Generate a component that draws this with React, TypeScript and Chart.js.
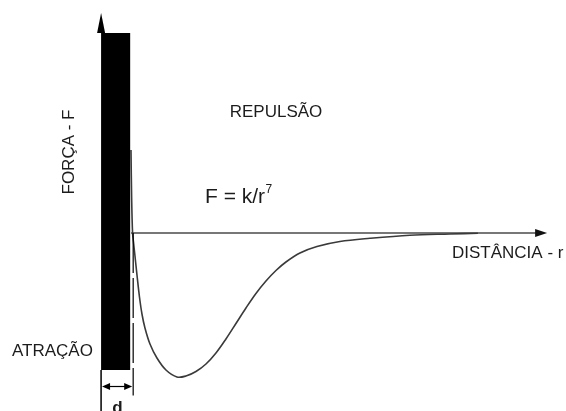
import React, { useEffect, useRef } from "react";
import { Chart, registerables } from "chart.js";

Chart.register(...registerables);

// Interatomic force curve: distance r vs. force F
const distance = [0.997, 1.02, 1.05, 1.08, 1.13, 1.197, 1.28, 1.363, 1.463, 1.63, 1.863, 2.163, 2.53, 2.83, 3.163, 3.497, 3.83, 4.163, 4.497, 4.83, 5.163, 5.497, 5.83, 6.163, 6.63, 7.197, 7.963, 8.963, 10.297, 11.63, 12.563];
const force = [4.15, 1.65, 0, -0.45, -1.15, -2.1, -3.2, -4.05, -4.75, -5.55, -6.25, -6.85, -7.2, -7.15, -6.925, -6.55, -6.0, -5.3, -4.525, -3.75, -3.025, -2.4, -1.875, -1.45, -1.0, -0.675, -0.425, -0.265, -0.11, -0.05, -0.015];

// Rigid wall of width d at the origin
const wallR = [0, 0.97];
const wallF = [-6.85, 10];
const dimensionF = -7.675;
const dimensionR = [0, 1.07];
const axisEndR = 14.87;
const axisTopF = 11;

const labels = {
  force: "FORÇA - F",
  repulsion: "REPULSÃO",
  law: "F = k/r",
  exponent: "7",
  distance: "DISTÂNCIA - r",
  attraction: "ATRAÇÃO",
  width: "d",
};

const FONT = "'Liberation Sans', Arial, sans-serif";

function arrowHead(ctx: CanvasRenderingContext2D, tipX: number, tipY: number, dx: number, dy: number, len: number, half: number) {
  const nx = -dy, ny = dx;
  ctx.beginPath();
  ctx.moveTo(tipX, tipY);
  ctx.lineTo(tipX - dx * len + nx * half, tipY - dy * len + ny * half);
  ctx.lineTo(tipX - dx * len - nx * half, tipY - dy * len - ny * half);
  ctx.closePath();
  ctx.fill();
}

const diagramPlugin = {
  id: "forceDiagram",
  beforeDatasetsDraw(chart: any) {
    const { ctx, scales } = chart;
    const x = scales.x, y = scales.y;
    const x0 = x.getPixelForValue(1.0);
    const xEnd = x.getPixelForValue(axisEndR);
    const yZero = y.getPixelForValue(0);
    ctx.save();
    // distance axis
    ctx.strokeStyle = "#4a4a4a";
    ctx.lineWidth = 1.5;
    ctx.beginPath();
    ctx.moveTo(x0, yZero);
    ctx.lineTo(xEnd - 8, yZero);
    ctx.stroke();
    ctx.fillStyle = "#111";
    arrowHead(ctx, xEnd, yZero, 1, 0, 12, 4);
    ctx.restore();
  },
  afterDatasetsDraw(chart: any) {
    const { ctx, scales } = chart;
    const x = scales.x, y = scales.y;
    const left = x.getPixelForValue(wallR[0]);
    const right = x.getPixelForValue(wallR[1]);
    const top = y.getPixelForValue(wallF[1]);
    const bottom = y.getPixelForValue(wallF[0]);
    const yZero = y.getPixelForValue(0);
    ctx.save();

    // wall
    ctx.fillStyle = "#000";
    ctx.fillRect(left, top, right - left, bottom - top);

    // force axis arrow
    const tipY = y.getPixelForValue(axisTopF);
    arrowHead(ctx, left, tipY, 0, -1, top - tipY, 4);

    // left extension line below the wall
    ctx.strokeStyle = "#000";
    ctx.lineWidth = 1.5;
    ctx.beginPath();
    ctx.moveTo(left, bottom);
    ctx.lineTo(left, chart.height);
    ctx.stroke();

    // dashed line marking d
    const dx = x.getPixelForValue(dimensionR[1]);
    const dimY = y.getPixelForValue(dimensionF);
    ctx.lineWidth = 1.2;
    ctx.setLineDash([40, 5]);
    ctx.beginPath();
    ctx.moveTo(dx, yZero);
    ctx.lineTo(dx, dimY + 9);
    ctx.stroke();
    ctx.setLineDash([]);

    // dimension arrow
    ctx.beginPath();
    ctx.moveTo(left + 4, dimY);
    ctx.lineTo(dx - 4, dimY);
    ctx.stroke();
    arrowHead(ctx, left + 1, dimY, -1, 0, 8, 3.5);
    arrowHead(ctx, dx - 1, dimY, 1, 0, 8, 3.5);

    // labels
    ctx.fillStyle = "#1c1c1c";
    ctx.textBaseline = "middle";
    ctx.font = `17px ${FONT}`;

    ctx.textAlign = "center";
    ctx.fillText(labels.repulsion, 276, 112.5);

    ctx.textAlign = "left";
    ctx.fillText(labels.distance, 452, 253);
    ctx.fillText(labels.attraction, 12, 351.5);

    ctx.save();
    ctx.translate(69, 152);
    ctx.rotate(-Math.PI / 2);
    ctx.textAlign = "center";
    ctx.fillText(labels.force, 0, 0);
    ctx.restore();

    ctx.textBaseline = "alphabetic";
    ctx.font = `21px ${FONT}`;
    ctx.fillText(labels.law, 205, 203);
    const w = ctx.measureText(labels.law).width;
    ctx.font = `12px ${FONT}`;
    ctx.fillText(labels.exponent, 205 + w + 0.5, 193);

    ctx.font = `bold 17px ${FONT}`;
    ctx.textAlign = "center";
    ctx.fillText(labels.width, 117.5, 413);

    ctx.restore();
  },
};

export default function App() {
  const ref = useRef<HTMLCanvasElement | null>(null);

  useEffect(() => {
    document.body.style.margin = "0";
    const canvas = ref.current;
    if (!canvas) return;
    const chart = new Chart(canvas, {
      type: "line",
      data: {
        datasets: [
          {
            data: distance.map((r, i) => ({ x: r, y: force[i] })),
            borderColor: "#3a3a3a",
            borderWidth: 1.6,
            pointRadius: 0,
            tension: 0.35,
            fill: false,
          },
        ],
      },
      options: {
        animation: false,
        responsive: false,
        devicePixelRatio: 1,
        layout: { padding: 0 },
        plugins: { legend: { display: false }, tooltip: { enabled: false }, title: { display: false } },
        scales: {
          x: { type: "linear", min: -3.37, max: 15.5, display: false },
          y: { type: "linear", min: -8.9, max: 11.65, display: false },
        },
      },
      plugins: [diagramPlugin],
    });
    return () => chart.destroy();
  }, []);

  return (
    <div style={{ position: "absolute", left: 0, top: 0, width: 566, height: 411, background: "#fff" }}>
      <canvas ref={ref} width={566} height={411} />
    </div>
  );
}
